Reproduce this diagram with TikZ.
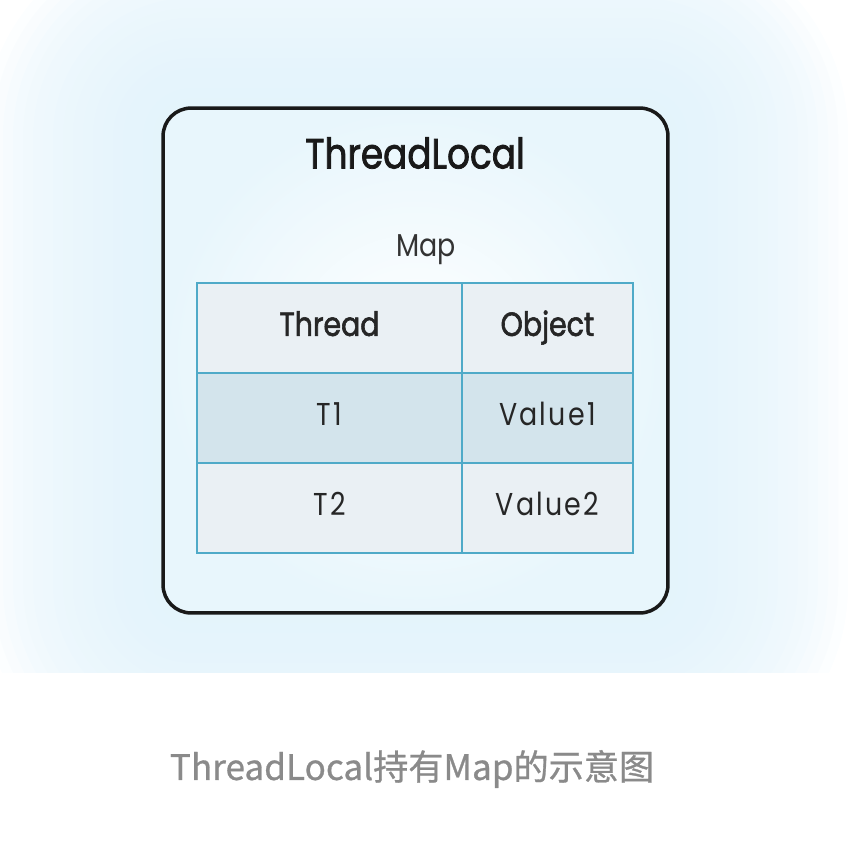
\documentclass[tikz,border=0pt]{standalone}
\usepackage{fontspec}
\setmainfont{Poppins}
\newfontfamily\diagfont[FakeStretch=0.85]{Poppins}
\newfontfamily\diagbold[FakeStretch=0.85, FakeBold=1.8]{Poppins}
\newfontfamily\cellfont[FakeStretch=0.85, LetterSpace=7]{Poppins}
\newfontfamily\cjk[FakeBold=0.8]{Noto Sans CJK SC}
\usepackage{xcolor}
\usetikzlibrary{positioning}

\definecolor{glowblue}{HTML}{E0F2FB}
\definecolor{boxblue}{HTML}{E8F6FC}
\definecolor{cellline}{HTML}{4FAAC8}
\definecolor{headfill}{HTML}{EAF0F4}
\definecolor{rowfill}{HTML}{D3E4EC}
\definecolor{captiongray}{HTML}{8A8A8A}

\begin{document}
\begin{tikzpicture}[
    x=0.02cm, y=-0.02cm,
    frame/.style={rectangle, draw=black!90, line width=2pt, rounded corners=16pt, minimum width=10.1cm, minimum height=10.1cm, shading=radial, inner color=white, outer color=boxblue},
    glow/.style={fill=glowblue, fill opacity=0.11},
    cell/.style={rectangle, draw=cellline, line width=1.1pt, outer sep=0pt, minimum height=1.8cm, text height=13pt, text depth=4pt, text=black!85, font=\cellfont\fontsize{18}{20}\selectfont},
    wide/.style={cell, minimum width=5.3cm},
    narrow/.style={cell, minimum width=3.42cm},
    head/.style={fill=headfill, font=\diagbold\fontsize{19}{21}\selectfont},
    plain/.style={fill=headfill},
    marked/.style={fill=rowfill},
    node distance=0pt
]
    \useasboundingbox (0,0) rectangle (864,846);

    % Background glow round the box (stacked soft layers)
    \begin{scope}
        \clip (0,0) rectangle (864,672);
        \foreach \d in {10,20,...,180}
            \fill[glow, rounded corners={16pt+\d*0.567pt}] ({163-\d},{108-\d}) rectangle ({668+\d},{613+\d});
    \end{scope}

    % ThreadLocal frame
    \node [frame] (tl) at (415.5,360.5) {};
    \node [font=\diagbold\fontsize{24}{28}\selectfont, text=black!90] (title) at (415,153) {ThreadLocal};
    \node [font=\diagfont\fontsize{18}{20}\selectfont, text=black!80] (map) at (426,250) {Map};

    % Map table: header row
    \node [wide, head, anchor=north west] (thread) at (197,283) {Thread};
    \node [narrow, head, right=of thread] (object) {Object};

    % Map table: entries
    \node [wide, marked, below=of thread] (t1) {T1};
    \node [narrow, marked, right=of t1] (val1) {Value1};
    \node [wide, plain, below=of t1] (t2) {T2};
    \node [narrow, plain, right=of t2] (val2) {Value2};

    % Caption
    \node [font=\cjk\fontsize{20}{24}\selectfont, text=captiongray] (caption) at (412,769) {ThreadLocal持有Map的示意图};
\end{tikzpicture}
\end{document}
